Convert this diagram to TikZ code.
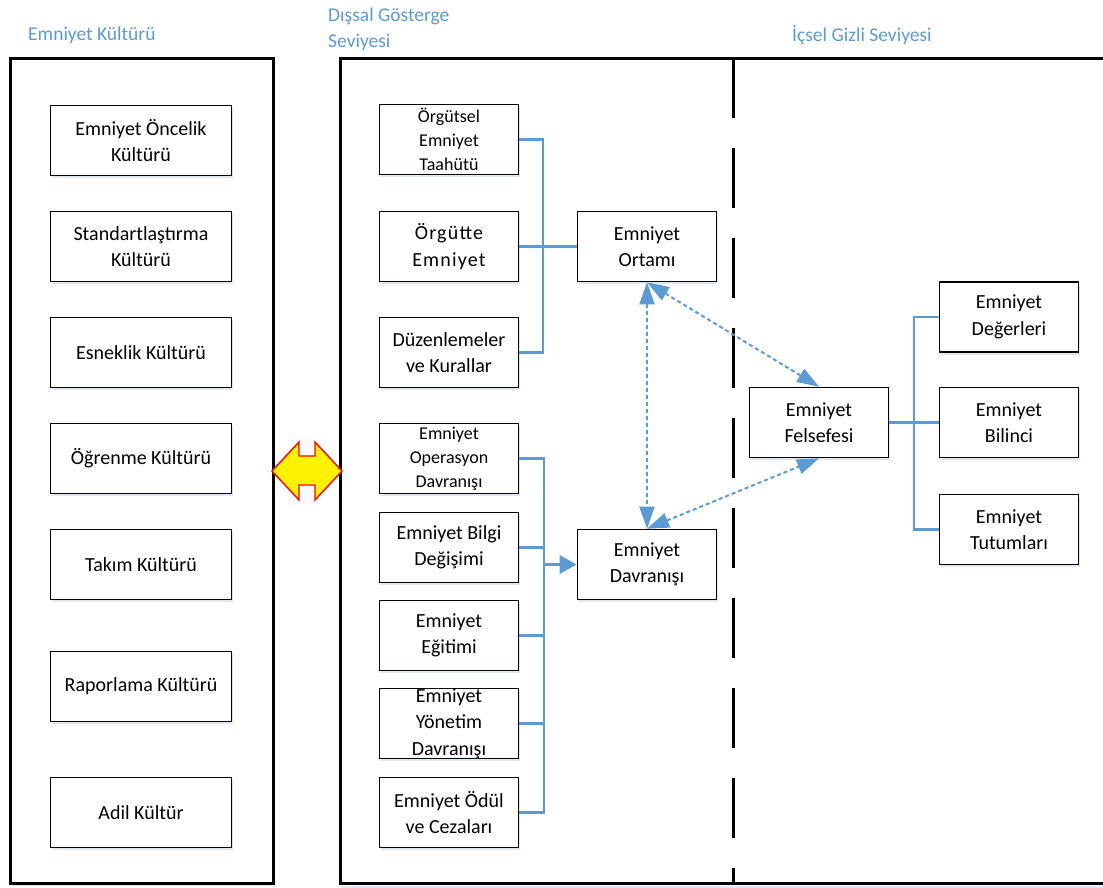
\documentclass[tikz,border=0pt]{standalone}
\usepackage{fontspec}
\setmainfont{Carlito}
\usetikzlibrary{arrows.meta,shadows}
\definecolor{linkblue}{HTML}{5B9BD5}
\definecolor{shadowcol}{HTML}{D3DDEA}
\begin{document}
\begin{tikzpicture}[x=1pt,y=-1pt,
  soft shadow/.style={drop shadow={shadow xshift=1.5pt,shadow yshift=-2.5pt,fill=shadowcol,opacity=0.7}},
  box/.style={draw=black,line width=1.6pt,fill=white,minimum height=70pt,
    inner xsep=0pt,inner ysep=-8pt,align=center,soft shadow,
    font=\fontsize{20}{26.5}\selectfont},
  lbox/.style={box,minimum width=181pt},
  mbox/.style={box,minimum width=139pt},
  small/.style={font=\fontsize{18}{24}\selectfont},
  wide/.style={font=\fontsize{20}{27}\selectfont\addfontfeatures{LetterSpace=6}},
  panel/.style={draw=black,line width=3pt,line join=miter},
  title/.style={text=linkblue,font=\fontsize{19.5}{26}\selectfont,inner sep=0pt,align=left},
  conn/.style={draw=linkblue,line width=2.2pt},
  feed/.style={draw=linkblue,line width=3.5pt,-{Triangle[length=17pt,width=18pt]}},
  link/.style={draw=linkblue,line width=2pt,dash pattern=on 4pt off 3pt,
    {Triangle[length=22pt,width=15pt]}-{Triangle[length=22pt,width=15pt]}},
  swap/.style={draw=red,line width=1.4pt,fill=yellow,line join=miter}]
\useasboundingbox (0,0) rectangle (1103,888);

% panel titles
\node[title,anchor=base west] (t1) at (28,41) {Emniyet Kültürü};
\node[title,anchor=north west] (t2) at (328,8) {Dışsal Gösterge\\Seviyesi};
\node[title,anchor=base west] (t3) at (792,42) {İçsel Gizli Seviyesi};

% panels
\node[panel,fill=white,soft shadow,minimum width=263pt,minimum height=824pt,inner sep=0pt] (culture) at (141.5,471) {};
\fill[shadowcol,opacity=0.7] (342,885.5) rectangle (1103,887.5);
\draw[panel] (1110,59) -- (340,59) -- (340,883) -- (1110,883);
\draw[line width=3pt,dash pattern=on 60pt off 30pt] (733,58) -- (733,883);

% safety culture components
\node[lbox] (c1) at (141,140.5) {Emniyet Öncelik\\Kültürü};
\node[lbox] (c2) at (141,246.5) {Standartlaştırma\\Kültürü};
\node[lbox] (c3) at (141,352.5) {Esneklik Kültürü};
\node[lbox] (c4) at (141,458.5) {Öğrenme Kültürü};
\node[lbox] (c5) at (141,564.5) {Takım Kültürü};
\node[lbox] (c6) at (141,686.5) {Raporlama Kültürü};
\node[lbox] (c7) at (141,812.5) {Adil Kültür};

% external indicators
\node[mbox,small] (e1) at (449,139.5) {Örgütsel\\Emniyet\\Taahütü};
\node[mbox,wide] (e2) at (449,246.5) {Örgütte\\Emniyet};
\node[mbox] (e3) at (449,352.5) {Düzenlemeler\\ve Kurallar};
\node[mbox,small] (b1) at (449,458.5) {Emniyet\\Operasyon\\Davranışı};
\node[mbox] (b2) at (449,547.5) {Emniyet Bilgi\\Değişimi};
\node[mbox] (b3) at (449,635.5) {Emniyet\\Eğitimi};
\node[mbox] (b4) at (449,723.5) {Emniyet\\Yönetim\\Davranışı};
\node[mbox] (b5) at (449,812.5) {Emniyet Ödül\\ve Cezaları};

\node[mbox] (env) at (647,246.5) {Emniyet\\Ortamı};
\node[mbox] (beh) at (647,564.5) {Emniyet\\Davranışı};

% internal hidden level
\node[mbox] (phil) at (819,422.5) {Emniyet\\Felsefesi};
\node[mbox] (val) at (1009,317) {Emniyet\\Değerleri};
\node[mbox] (aw) at (1009,422.5) {Emniyet\\Bilinci};
\node[mbox] (att) at (1009,529.5) {Emniyet\\Tutumları};

% environment group
\draw[conn] (e1.east) -- ++(24,0) |- (e3.east);
\draw[conn] (e2.east) -- (env.west);

% behaviour group
\draw[conn] (b1.east) -- ++(25,0) coordinate (bbus) |- (b5.east);
\draw[conn] (b2.east) -- (b2.east -| bbus);
\draw[conn] (b3.east) -- (b3.east -| bbus);
\draw[conn] (b4.east) -- (b4.east -| bbus);
\draw[feed] (bbus |- beh.west) -- (beh.west);

% philosophy group
\draw[conn] (phil.east) -- (aw.west);
\draw[conn] (val.west) -- ++(-25,0) |- (att.west);

% mutual influences
\draw[link] (env.south) -- (beh.north);
\draw[link] (env.south) -- (phil.north);
\draw[link] (beh.north) -- (phil.south);

% exchange between the two panels
\draw[swap] (272,471) -- (299,442) -- (299,456) -- (315,456) -- (315,442)
  -- (342,471) -- (315,500) -- (315,485) -- (299,485) -- (299,500) -- cycle;
\end{tikzpicture}
\end{document}
